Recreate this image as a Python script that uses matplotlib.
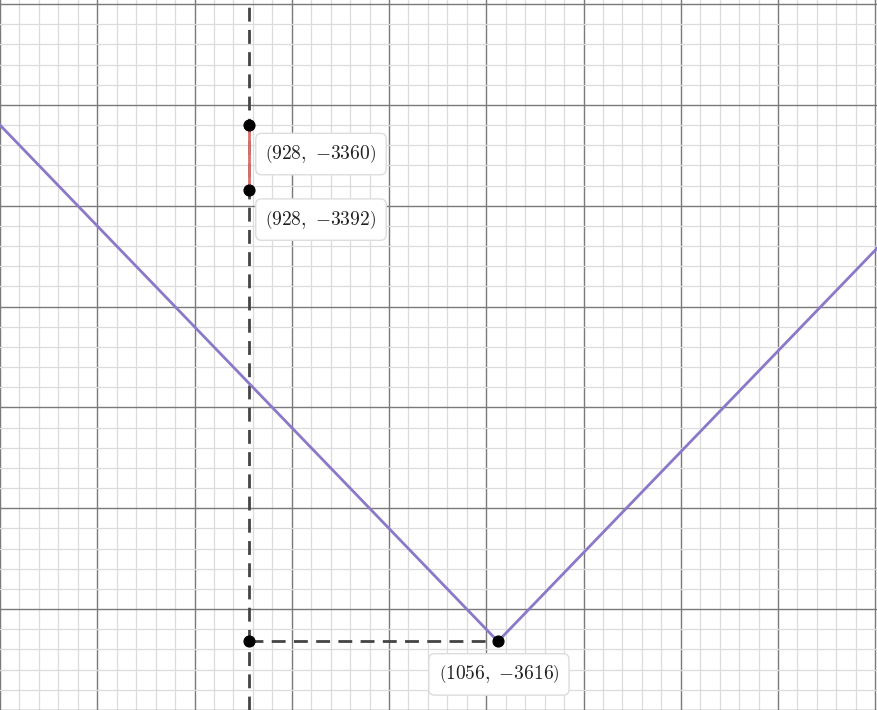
import numpy as np
import matplotlib.pyplot as plt

# %% data ---------------------------------------------------------------------
x_min, x_max = 800, 1251.4
y_min, y_max = -3649.5, -3298

# V-shaped line y = |x - 1056| - 3616, read at its ends and vertex
v_x = [800, 1056, 1251.4]
v_y = [-3360, -3616, -3420.6]

# red segment on x = 928
seg_x = [928, 928]
seg_y = [-3360, -3392]

# dashed guides
guide_x = 928
guide_h_x = [928, 1056]
guide_h_y = -3616

pt_x = [928, 928, 928, 1056]
pt_y = [-3360, -3392, -3616, -3616]

labels = [r"$\left(928,\ {-}3360\right)$", r"$\left(928,\ {-}3392\right)$",
          r"$\left(1056,\ {-}3616\right)$"]
label_pts = [(928, -3360), (928, -3392), (1056, -3616)]
label_offsets = [(72, -29), (72, -30), (1, -33)]

# %% figure -------------------------------------------------------------------
plt.rcParams["mathtext.fontset"] = "cm"
fig = plt.figure(figsize=(8.78, 7.10), dpi=100)
ax = fig.add_axes([0, 0, 1, 1])
ax.set_xlim(x_min, x_max)
ax.set_ylim(y_min, y_max)

ax.set_xticks(np.arange(800, 1260, 50))
ax.set_yticks(np.arange(-3650, -3290, 50))
ax.set_xticks(np.arange(800, 1260, 10), minor=True)
ax.set_yticks(np.arange(-3650, -3290, 10), minor=True)
ax.grid(which="minor", color="#dcdcdc", lw=0.9, zorder=0)
ax.grid(which="major", color="#7a7a7a", lw=1.0, zorder=0)
ax.tick_params(which="both", length=0, labelbottom=False, labelleft=False)
for s in ax.spines.values():
    s.set_visible(False)
ax.set_axisbelow(True)

ax.axvline(guide_x, color="#444444", lw=2, ls=(0, (5, 3)), zorder=2)
ax.plot(guide_h_x, [guide_h_y] * 2, color="#444444", lw=2, ls=(0, (5, 3)), zorder=2)
ax.plot(v_x, v_y, color="#8b78c9", lw=2, zorder=3)
ax.plot(seg_x, seg_y, color="#d9706c", lw=2, zorder=3)
ax.scatter(pt_x, pt_y, s=60, color="black", zorder=5)

for txt, p, off in zip(labels, label_pts, label_offsets):
    ax.annotate(txt, xy=p, xytext=off, textcoords="offset pixels",
                ha="center", va="center", fontsize=14,
                color="#222222", zorder=6,
                bbox=dict(boxstyle="round,pad=0.5,rounding_size=0.3",
                          fc="white", ec="#dddddd", lw=1))

fig.savefig("out.png", dpi=100)
